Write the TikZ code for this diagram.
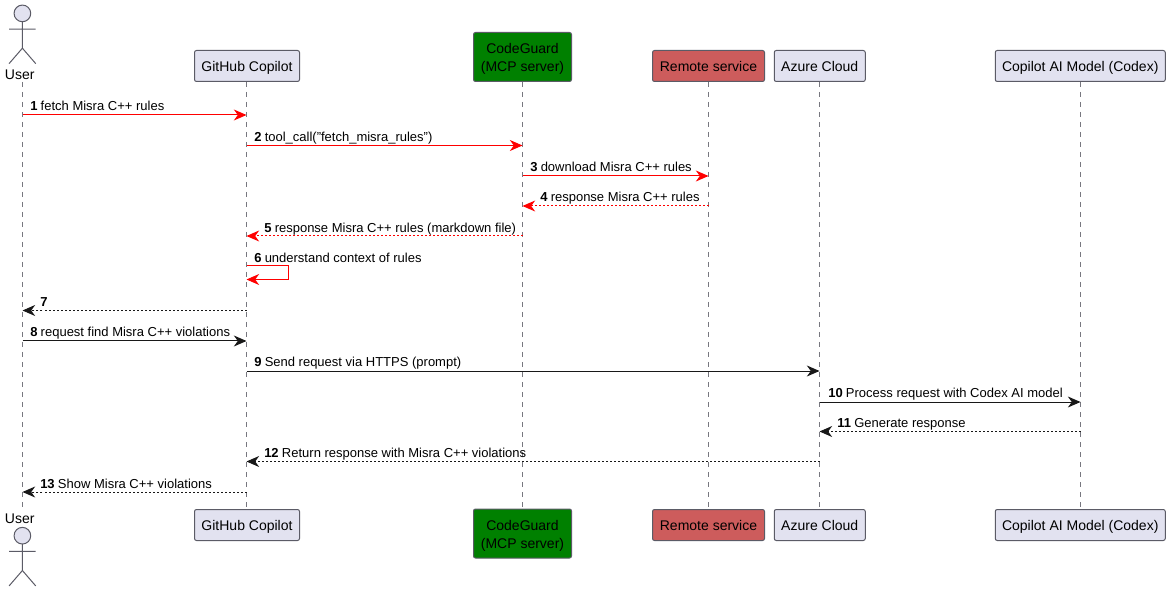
\documentclass[tikz,border=0pt]{standalone}
\usepackage{fontspec}
\setmainfont{Liberation Sans}
\usetikzlibrary{arrows.meta}
\definecolor{partfill}{HTML}{E2E2F0}
\definecolor{partline}{HTML}{5B5B66}
\definecolor{lifeline}{HTML}{77777F}
\definecolor{cgfill}{HTML}{008000}
\definecolor{rsfill}{HTML}{CD5C5C}
\definecolor{msgred}{HTML}{FF0000}
\definecolor{msgblack}{HTML}{181818}
\tikzset{
  x=0.75pt,y=-0.75pt,
  part/.style={draw=partline,fill=partfill,line width=0.75pt,rounded corners=1.5pt,inner sep=0pt,outer sep=0pt,font=\fontsize{10.5}{13.5}\selectfont,align=center,minimum height=23.25pt,text=black,text depth=0pt},
  actorbody/.style={draw=partline,line width=0.75pt},
  actorlabel/.style={font=\fontsize{10.5}{13}\selectfont,inner sep=0pt,text=black},
  life/.style={draw=lifeline,line width=0.75pt,dash pattern=on 3.75pt off 3.75pt},
  tip/.style={-{Stealth[length=9.5pt,width=8.25pt,inset=3pt]}},
  msg/.style={line width=0.75pt,tip},
  reply/.style={msg,dash pattern=on 1.5pt off 1.5pt},
  redm/.style={draw=msgred,color=msgred},
  blk/.style={draw=msgblack,color=msgblack},
  lab/.style={anchor=base west,inner sep=0pt,yshift=-0.5pt,font=\fontsize{9.75}{11}\selectfont,text=black}
}
\newcommand{\nmb}[1]{{\fontsize{9.75}{11}\selectfont\bfseries #1}\hspace{0.25em}}
\newcommand{\cgtext}{\raisebox{-0.75pt}{CodeGuard}\\\raisebox{-0.75pt}{(MCP server)}}
\newcommand{\actorfig}[2]{%
  \draw[actorbody,fill=partfill] (#1,#2+8.4) circle[radius=8.33];
  \draw[actorbody] (#1,#2+16.7) -- (#1,#2+43.2) (#1-13.3,#2+24.1) -- (#1+13.3,#2+24.1)
    (#1-13.3,#2+58.6) -- (#1,#2+43.2) -- (#1+13.3,#2+58.6);}
\begin{document}
\begin{tikzpicture}
\useasboundingbox (0,0) rectangle (1170,591);
% lifeline ends
\foreach \n/\x in {u/22.5,g/246.5,c/522.5,r/708.5,a/819.5,m/1080.5}{
  \coordinate (\n t) at (\x,82);
  \coordinate (\n b) at (\x,509);
}
\draw[life] (ut) -- (ub);
\draw[life] (gt) -- (gb);
\draw[life] (ct) -- (cb);
\draw[life] (rt) -- (rb);
\draw[life] (at) -- (ab);
\draw[life] (mt) -- (mb);
% heads
\actorfig{22.4}{5}
\node[actorlabel,anchor=base,fill=white] (ulabt) at (19.7,80) {User};
\node[part,minimum width=78.75pt] (gh) at (247,66) {GitHub Copilot};
\node[part,minimum width=73.5pt,minimum height=36.75pt,fill=cgfill] (ch) at (522.5,57) {\cgtext};
\node[part,minimum width=84pt,fill=rsfill] (rh) at (708.5,66) {Remote service};
\node[part,minimum width=68.25pt] (ah) at (819.75,66) {Azure Cloud};
\node[part,minimum width=127.5pt] (mh) at (1080.25,66) {Copilot AI Model (Codex)};
% tails
\node[actorlabel,anchor=base] (ulabb) at (19.7,523.5) {User};
\actorfig{22.4}{527.3}
\node[part,minimum width=78.75pt] (gf) at (247,525) {GitHub Copilot};
\node[part,minimum width=73.5pt,minimum height=36.75pt,fill=cgfill] (cf) at (522.5,533.5) {\cgtext};
\node[part,minimum width=84pt,fill=rsfill] (rf) at (708.5,525) {Remote service};
\node[part,minimum width=68.25pt] (af) at (819.75,525) {Azure Cloud};
\node[part,minimum width=127.5pt] (mf) at (1080.25,525) {Copilot AI Model (Codex)};
% message rows
\foreach \i/\y in {1/115,2/145.5,3/176,4/206,5/236,6/266,7/310.5,8/341,9/371,10/402,11/431.5,12/461.5,13/492}{
  \coordinate (y\i) at (0,\y);
}
\coordinate (sa) at (288.5,266);
\coordinate (sb) at (288.5,279.5);
\coordinate (sc) at (246.5,279.5);
\draw[msg,redm] (ut|-y1) -- (gt|-y1);
\draw[msg,redm] (gt|-y2) -- (ct|-y2);
\draw[msg,redm] (ct|-y3) -- (rt|-y3);
\draw[reply,redm] (rt|-y4) -- (ct|-y4);
\draw[reply,redm] (ct|-y5) -- (gt|-y5);
\draw[msg,redm] (gt|-y6) -- (sa) -- (sb) -- (sc);
\draw[reply,blk] (gt|-y7) -- (ut|-y7);
\draw[msg,blk] (ut|-y8) -- (gt|-y8);
\draw[msg,blk] (gt|-y9) -- (at|-y9);
\draw[msg,blk] (at|-y10) -- (mt|-y10);
\draw[reply,blk] (mt|-y11) -- (at|-y11);
\draw[reply,blk] (at|-y12) -- (gt|-y12);
\draw[reply,blk] (gt|-y13) -- (ut|-y13);
% labels
\node[lab] (l1) at (30,110) {\nmb{1}fetch Misra C++ rules};
\node[lab] (l2) at (254,140.5) {\nmb{2}tool\_call("fetch\_misra\_rules")};
\node[lab] (l3) at (530,171) {\nmb{3}download Misra C++ rules};
\node[lab] (l4) at (540,201) {\nmb{4}response Misra C++ rules};
\node[lab] (l5) at (264,232) {\nmb{5}response Misra C++ rules (markdown file)};
\node[lab] (l6) at (254,262) {\nmb{6}understand context of rules};
\node[lab] (l7) at (40,305.5) {\nmb{7}};
\node[lab] (l8) at (30,336) {\nmb{8}request find Misra C++ violations};
\node[lab] (l9) at (254,366) {\nmb{9}Send request via HTTPS (prompt)};
\node[lab] (l10) at (828,397) {\nmb{10}Process request with Codex AI model};
\node[lab] (l11) at (837,427) {\nmb{11}Generate response};
\node[lab] (l12) at (264,457) {\nmb{12}Return response with Misra C++ violations};
\node[lab] (l13) at (40,487.5) {\nmb{13}Show Misra C++ violations};
\end{tikzpicture}
\end{document}
